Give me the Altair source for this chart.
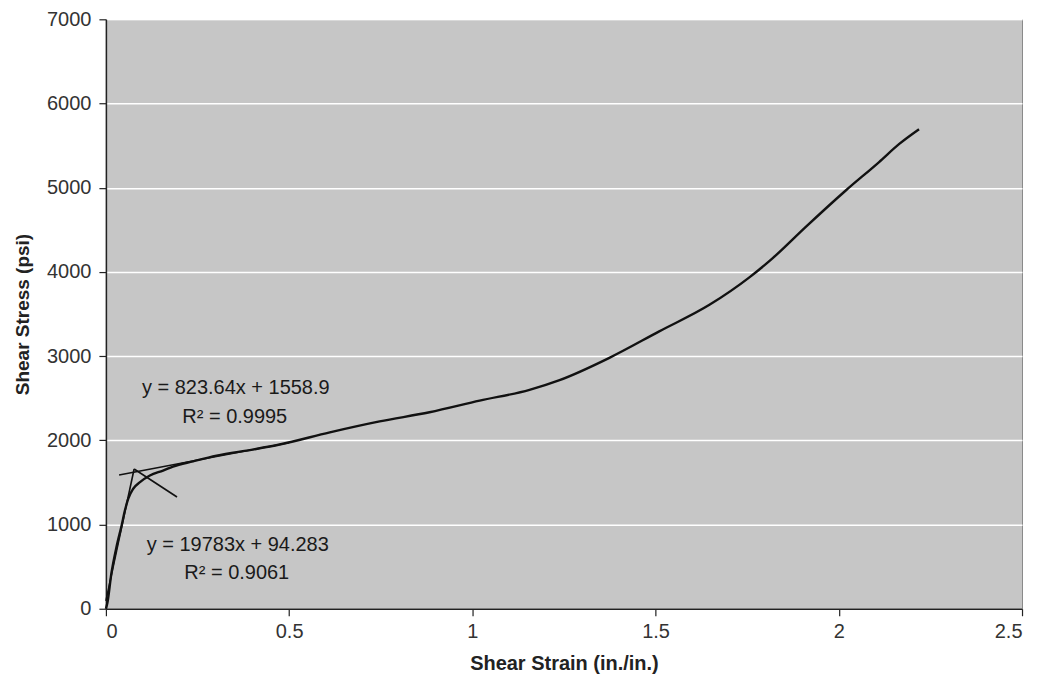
import altair as alt
import pandas as pd

strain = [0, 0.004, 0.015, 0.029, 0.043, 0.052, 0.061, 0.0745, 0.093, 0.12, 0.156,
          0.183, 0.238, 0.302, 0.40, 0.474, 0.611, 0.747, 0.883, 1.02, 1.156, 1.238,
          1.374, 1.51, 1.647, 1.756, 1.819, 1.91, 2.019, 2.11, 2.165, 2.219]
stress = [0, 67, 421, 736, 992, 1169, 1307, 1425, 1503, 1582, 1641,
          1689, 1751, 1818, 1890, 1950, 2095, 2225, 2333, 2471, 2600, 2715,
          2980, 3294, 3609, 3935, 4161, 4535, 4967, 5305, 5520, 5695]

# Trendline segments (end points)
fit1_strain = [0.036, 0.50]
fit1_stress = [1588, 1971]
fit2_strain = [0.0, 0.077]
fit2_stress = [94, 1660]
seg_strain = [0.077, 0.194]
seg_stress = [1660, 1327]

labels = ["y = 823.64x + 1558.9", "R\u00b2 = 0.9995", "y = 19783x + 94.283", "R\u00b2 = 0.9061"]

x_ticks = [0, 0.5, 1, 1.5, 2, 2.5]
y_ticks = [0, 1000, 2000, 3000, 4000, 5000, 6000, 7000]

FONT = "Liberation Sans"

xs = alt.Scale(domain=[0, 2.5], nice=False)
ys = alt.Scale(domain=[0, 7000], nice=False)

curve_df = pd.DataFrame({"strain": strain, "stress": stress, "i": range(len(strain))})

def seg_df(xv, yv):
    return pd.DataFrame({"strain": xv, "stress": yv, "i": range(len(xv))})

x_enc = alt.X("strain:Q", scale=xs,
              axis=alt.Axis(values=x_ticks, format="~g", title="Shear Strain (in./in.)", grid=False))
y_enc = alt.Y("stress:Q", scale=ys,
              axis=alt.Axis(values=y_ticks, format="d", title="Shear Stress (psi)", grid=True))

curve = alt.Chart(curve_df).mark_line(color="#111111", strokeWidth=2.4, interpolate="monotone").encode(
    x=x_enc, y=y_enc, order="i:Q")

def trend(df):
    return alt.Chart(df).mark_line(color="#111111", strokeWidth=1.6).encode(
        x=alt.X("strain:Q", scale=xs), y=alt.Y("stress:Q", scale=ys), order="i:Q")

t1 = trend(seg_df(fit1_strain, fit1_stress))
t2 = trend(seg_df(fit2_strain, fit2_stress))
t3 = trend(seg_df(seg_strain, seg_stress))

label_pos = [(130, 369), (129, 398), (132, 526), (131, 554)]
texts = []
for lab, (px, py) in zip(labels, label_pos):
    texts.append(
        alt.Chart(pd.DataFrame({"t": [lab]})).mark_text(
            font=FONT, fontSize=20, color="#1a1a1a", align="center", baseline="middle"
        ).encode(x=alt.value(px), y=alt.value(py), text="t:N")
    )

chart = alt.layer(curve, t1, t2, t3, *texts).properties(
    width=917, height=590,
    autosize=alt.AutoSizeParams(type="none"),
    padding={"left": 98, "top": 11, "right": 12, "bottom": 67},
).configure_view(
    fill="#c6c6c6", stroke="#8a8a8a", strokeWidth=1
).configure_axis(
    labelFont=FONT, titleFont=FONT, labelFontSize=20, titleFontSize=19,
    labelColor="#333333", titleColor="#222222", titleFontWeight="bold",
    domainColor="#222222", domainWidth=1.5, tickColor="#222222", tickSize=7, tickWidth=1.2,
    gridColor="#ffffff", gridWidth=1.5, gridOpacity=1,
).configure_axisX(
    labelPadding=6, titlePadding=12, titleFontSize=20
).configure_axisY(
    labelPadding=8, titlePadding=14
)

chart.save("out.html", embed_options={"renderer": "svg", "actions": False})
